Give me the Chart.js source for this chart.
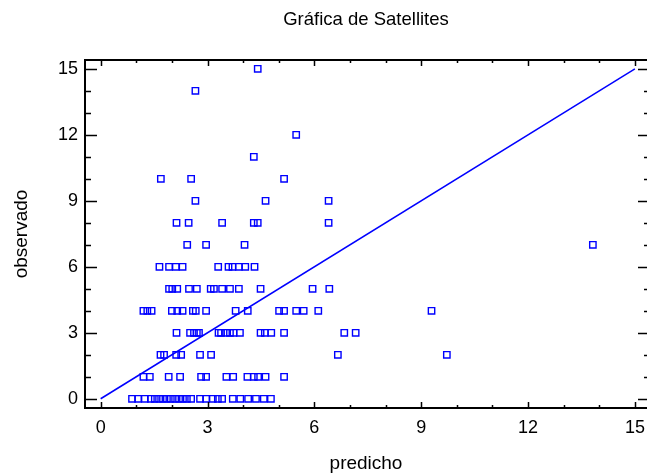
<!DOCTYPE html>
<html lang="es">
<head>
<meta charset="utf-8">
<title>Gráfica de Satellites</title>
<script src="https://cdn.jsdelivr.net/npm/chart.js@4.4.1/dist/chart.umd.min.js"></script>
<style>
  html, body { margin: 0; padding: 0; background: #fff; }
  #caja { width: 647px; height: 476px; }
</style>
</head>
<body>
<div id="caja"><canvas id="grafica" width="647" height="476"></canvas></div>
<script>
// -----------------------------------------------------
// Datos: predicho vs observado
// -----------------------------------------------------
const predicho = [
  // observado = 0
  0.88, 1.05, 1.24, 1.41, 1.52, 1.64, 1.75, 1.86, 1.97, 2.09, 2.20, 2.31, 2.42, 2.54,
  2.79, 2.96, 3.15, 3.29, 3.41, 3.71, 3.92, 4.14, 4.36, 4.58, 4.78,
  // observado = 1
  1.20, 1.38, 1.91, 2.23, 2.82, 2.96, 3.53, 3.72, 4.12, 4.30, 4.42, 4.63, 5.15,
  // observado = 2
  1.68, 1.78, 2.12, 2.26, 2.79, 3.10, 6.66, 9.72,
  // observado = 3
  2.13, 2.51, 2.62, 2.70, 2.76, 3.31, 3.38, 3.52, 3.63, 3.73, 3.91, 4.49, 4.61, 4.79,
  5.15, 6.84, 7.16,
  // observado = 4
  1.20, 1.31, 1.43, 2.00, 2.15, 2.30, 2.59, 2.67, 2.96, 3.79, 4.13, 5.01, 5.15, 5.49,
  5.70, 6.11, 9.29,
  // observado = 5
  1.92, 2.01, 2.15, 2.48, 2.70, 3.09, 3.18, 3.41, 3.63, 3.88, 4.49, 5.95, 6.42,
  // observado = 6
  1.65, 1.92, 2.11, 2.30, 3.30, 3.59, 3.70, 3.88, 4.06, 4.32,
  // observado = 7
  2.43, 2.96, 4.04, 13.82,
  // observado = 8
  2.13, 2.47, 3.41, 4.30, 4.41, 6.40,
  // observado = 9
  2.66, 4.63, 6.40,
  // observado = 10
  1.69, 2.54, 5.15,
  // observado = 11, 12, 14, 15
  4.30, 5.49, 2.66, 4.41
];

const observado = [
  0, 0, 0, 0, 0, 0, 0, 0, 0, 0, 0, 0, 0, 0,
  0, 0, 0, 0, 0, 0, 0, 0, 0, 0, 0,
  1, 1, 1, 1, 1, 1, 1, 1, 1, 1, 1, 1, 1,
  2, 2, 2, 2, 2, 2, 2, 2,
  3, 3, 3, 3, 3, 3, 3, 3, 3, 3, 3, 3, 3, 3,
  3, 3, 3,
  4, 4, 4, 4, 4, 4, 4, 4, 4, 4, 4, 4, 4, 4,
  4, 4, 4,
  5, 5, 5, 5, 5, 5, 5, 5, 5, 5, 5, 5, 5,
  6, 6, 6, 6, 6, 6, 6, 6, 6, 6,
  7, 7, 7, 7,
  8, 8, 8, 8, 8, 8,
  9, 9, 9,
  10, 10, 10,
  11, 12, 14, 15
];

// Recta de referencia y = x
const rectaX = [0, 15];
const rectaY = [0, 15];

// Marcas de los ejes
const ticksX = [0, 3, 6, 9, 12, 15];
const ticksY = [0, 3, 6, 9, 12, 15];

const AZUL = "#0000ff";
const FUENTE = "'Liberation Sans', Arial, sans-serif";

// -----------------------------------------------------
// Marco y marcas hacia dentro (el borde derecho cae fuera del lienzo)
// -----------------------------------------------------
const marcoPlugin = {
  id: "marco",
  afterDatasetsDraw(chart) {
    const { ctx, chartArea: a, scales } = chart;
    const x = scales.x, y = scales.y;
    const derecha = a.right;
    ctx.save();
    ctx.strokeStyle = "#000";
    ctx.lineWidth = 2;
    ctx.beginPath();
    ctx.moveTo(derecha, a.top);
    ctx.lineTo(a.left, a.top);
    ctx.lineTo(a.left, a.bottom);
    ctx.lineTo(derecha, a.bottom);
    ctx.stroke();

    ctx.lineWidth = 1.5;
    ctx.beginPath();
    for (let v = 0; v <= 15; v++) {
      const mayor = v % 3 === 0;
      const px = Math.round(x.getPixelForValue(v)) + 0.5;
      const py = Math.round(y.getPixelForValue(v)) + 0.5;
      const lx = mayor ? 6 : 3;
      const ly = mayor ? 12 : 6;
      // abajo y arriba
      ctx.moveTo(px, a.bottom); ctx.lineTo(px, a.bottom - lx);
      ctx.moveTo(px, a.top); ctx.lineTo(px, a.top + lx);
      // izquierda y derecha
      ctx.moveTo(a.left, py); ctx.lineTo(a.left + ly, py);
      ctx.moveTo(derecha, py); ctx.lineTo(derecha - (mayor ? 9 : 3), py);
    }
    ctx.stroke();
    ctx.restore();
  }
};

const puntos = predicho.map((p, i) => ({ x: p, y: observado[i] }));
const recta = rectaX.map((v, i) => ({ x: v, y: rectaY[i] }));

new Chart(document.getElementById("grafica"), {
  type: "scatter",
  data: {
    datasets: [
      {
        label: "observado",
        data: puntos,
        pointStyle: "rect",
        pointRadius: 4.5,
        pointBorderWidth: 1.4,
        borderColor: AZUL,
        backgroundColor: "rgba(0,0,0,0)"
      },
      {
        type: "line",
        label: "y = x",
        data: recta,
        borderColor: AZUL,
        borderWidth: 1.5,
        pointRadius: 0,
        fill: false
      }
    ]
  },
  options: {
    responsive: false,
    devicePixelRatio: 1,
    animation: false,
    layout: { autoPadding: false, padding: { left: 0, right: -3, top: 0, bottom: 0 } },
    plugins: {
      legend: { display: false },
      tooltip: { enabled: false },
      title: {
        display: true,
        text: "Gráfica de Satellites",
        fullSize: false,
        color: "#000",
        font: { family: FUENTE, size: 18.5, weight: "normal", lineHeight: 1.2 },
        padding: { top: 9, bottom: 28.8 }
      }
    },
    scales: {
      x: {
        type: "linear",
        min: -0.44,
        max: 15.34,
        afterBuildTicks: (s) => { s.ticks = ticksX.map((v) => ({ value: v })); },
        afterFit: (s) => { s.height = 68; s.paddingLeft = 0; s.paddingRight = 0; },
        grid: { display: false, drawTicks: false },
        border: { display: false },
        ticks: {
          color: "#000",
          padding: 9,
          font: { family: FUENTE, size: 18 }
        },
        title: {
          display: true,
          text: "predicho",
          color: "#000",
          font: { family: FUENTE, size: 19 },
          padding: { top: 0, bottom: 1 }
        }
      },
      y: {
        type: "linear",
        min: -0.42,
        max: 15.4,
        afterBuildTicks: (s) => { s.ticks = ticksY.map((v) => ({ value: v })); },
        afterFit: (s) => { s.width = 85; s.paddingTop = 0; s.paddingBottom = 0; },
        grid: { display: false, drawTicks: false },
        border: { display: false },
        ticks: {
          color: "#000",
          padding: 7,
          font: { family: FUENTE, size: 18 }
        },
        title: {
          display: true,
          text: "observado",
          color: "#000",
          font: { family: FUENTE, size: 19 },
          padding: { top: 10, bottom: 0 }
        }
      }
    }
  },
  plugins: [marcoPlugin]
});
</script>
</body>
</html>
